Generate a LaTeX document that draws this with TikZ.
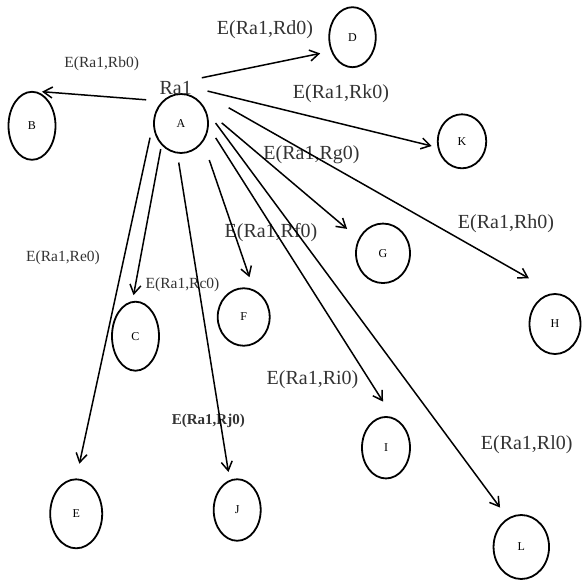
\documentclass[tikz,border=0pt]{standalone}
\usepackage{fontspec}
\setmainfont{Liberation Serif}
\usetikzlibrary{shapes.geometric,arrows.meta}
\tikzset{
  estado/.style={ellipse, draw, line width=1.8pt, inner sep=0pt,
                 font=\fontsize{12}{14}\selectfont},
  rotulo/.style={inner sep=1pt, text=black!80, font=\fontsize{20}{22}\selectfont},
  rotmenor/.style={inner sep=1pt, text=black!80, font=\fontsize{15.5}{17}\selectfont},
  seta/.style={-{Straight Barb[length=9pt,width=11pt]}, line width=1.5pt},
}
\begin{document}
\begin{tikzpicture}[x=1pt,y=-1pt]
    \useasboundingbox (0,0) rectangle (582,581);

    %% ---------- estados ----------
    \node[estado, minimum width=54pt, minimum height=59pt]   (A) at (181,123.5) {A};
    \node[estado, minimum width=47pt, minimum height=68pt]   (B) at (32,125.8)  {B};
    \node[estado, minimum width=47pt, minimum height=69pt]   (C) at (135.5,336.2) {C};
    \node[estado, minimum width=46.5pt, minimum height=60pt] (D) at (352.5,37.2) {D};
    \node[estado, minimum width=52pt, minimum height=69pt]   (E) at (76.2,513.8) {E};
    \node[estado, minimum width=52pt, minimum height=57.5pt] (F) at (243.7,317) {F};
    \node[estado, minimum width=54pt, minimum height=59.5pt] (G) at (383,253.3) {G};
    \node[estado, minimum width=51pt, minimum height=60pt]   (H) at (555,324)   {H};
    \node[estado, minimum width=48pt, minimum height=61.5pt] (I) at (386,447.7) {I};
    \node[estado, minimum width=47pt, minimum height=61.5pt] (J) at (237.2,510) {J};
    \node[estado, minimum width=48.5pt, minimum height=54pt] (K) at (462,141.3) {K};
    \node[estado, minimum width=55.5pt, minimum height=64pt] (L) at (521.3,547) {L};

    %% ---------- rotulos ----------
    \node[rotulo]   (ra)  at (175.7,87.5) {Ra1};
    \node[rotulo]   (lRd) at (265,30)     {E(Ra1,Rd0)};
    \node[rotmenor] (lRb) at (101.7,64)   {E(Ra1,Rb0)};
    \node[rotulo]   (lRk) at (341,94)     {E(Ra1,Rk0)};
    \node[rotulo]   (lRg) at (311.5,154.5) {E(Ra1,Rg0)};
    \node[rotulo]   (lRh) at (506,223.5)  {E(Ra1,Rh0)};
    \node[rotulo]   (lRf) at (271,233)    {E(Ra1,Rf0)};
    \node[rotmenor] (lRe) at (63,257.5)   {E(Ra1,Re0)};
    \node[rotmenor] (lRc) at (182.5,284.5) {E(Ra1,Rc0)};
    \node[rotulo]   (lRi) at (312.5,380)  {E(Ra1,Ri0)};
    \node[rotmenor, font=\fontsize{15}{17}\selectfont\bfseries] (lRj) at (208.3,421) {E(Ra1,Rj0)};
    \node[rotulo]   (lRl) at (526.7,445)  {E(Ra1,Rl0)};

    %% ---------- transicoes (origem/destino/recuo inicial/recuo final) ----------
    \foreach \o/\d/\s/\t in {A.130/B.north/16/10, ra.north east/D.213/9/11,
        ra.east/K.194/15/6, ra.east/H.north/41/30, A.30/G.149/21/15,
        A.28/L.115/16/13, A.353/I.77/13/18.6, A.320/F.70/19/13,
        A.263/J.104/9/8, A.228/C.95/4/6, A.west/E.north/14.5/15}
      \draw[seta, shorten <=\s pt, shorten >=\t pt] (\o) -- (\d);

\end{tikzpicture}
\end{document}
